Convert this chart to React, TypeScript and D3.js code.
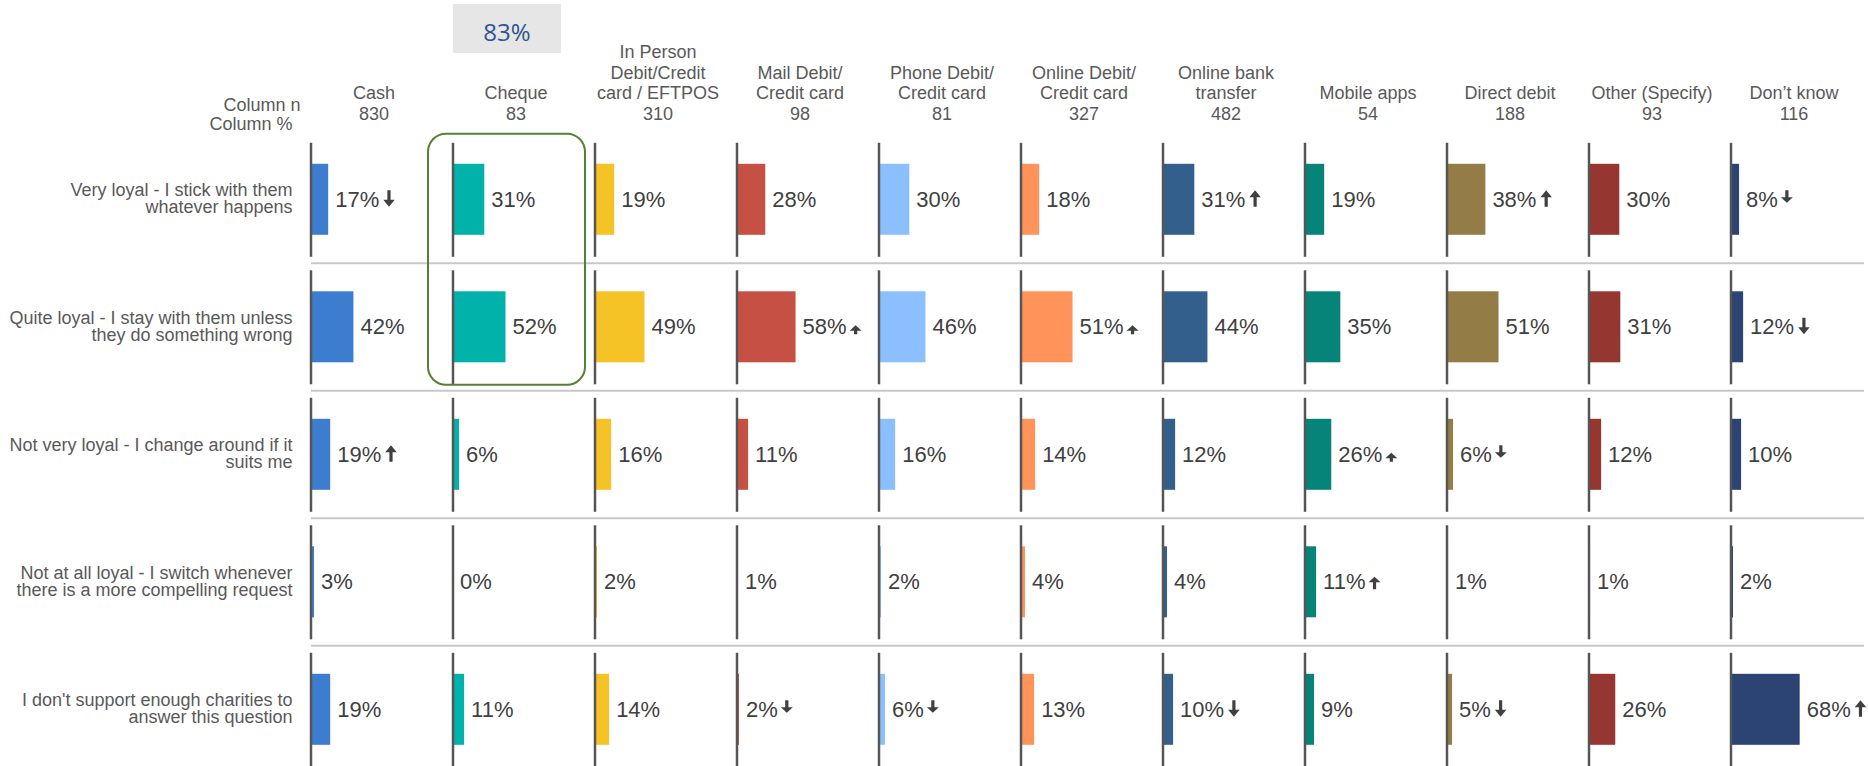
import React, { useEffect, useRef } from 'react'
import * as d3 from 'd3'

const columnKeys = ['cash', 'cheque', 'inperson', 'mail', 'phone', 'onlinedebit', 'bank', 'mobile', 'direct', 'other', 'dontknow']
const columnLabels = [
  ['Cash'],
  ['Cheque'],
  ['In Person', 'Debit/Credit', 'card / EFTPOS'],
  ['Mail Debit/', 'Credit card'],
  ['Phone Debit/', 'Credit card'],
  ['Online Debit/', 'Credit card'],
  ['Online bank', 'transfer'],
  ['Mobile apps'],
  ['Direct debit'],
  ['Other (Specify)'],
  ['Don’t know'],
]
const columnN = [830, 83, 310, 98, 81, 327, 482, 54, 188, 93, 116]
const columnColors = ['#3c7dd0', '#00b2a9', '#f5c325', '#c55043', '#8cbffe', '#ff9359', '#335f8c', '#06847a', '#937c45', '#963630', '#2c4474']

const rowLabels = [
  ['Very loyal - I stick with them', 'whatever happens'],
  ['Quite loyal - I stay with them unless', 'they do something wrong'],
  ['Not very loyal - I change around if it', 'suits me'],
  ['Not at all loyal - I switch whenever', 'there is a more compelling request'],
  ["I don't support enough charities to", 'answer this question'],
]

const veryLoyal = [17, 31, 19, 28, 30, 18, 31, 19, 38, 30, 8]
const quiteLoyal = [42, 52, 49, 58, 46, 51, 44, 35, 51, 31, 12]
const notVeryLoyal = [19, 6, 16, 11, 16, 14, 12, 26, 6, 12, 10]
const notAtAllLoyal = [3, 0, 2, 1, 2, 4, 4, 11, 1, 1, 2]
const dontSupport = [19, 11, 14, 2, 6, 13, 10, 9, 5, 26, 68]

// significance arrows: u/d = up/down, L/M/S = arrow size
const veryLoyalSig = ['dL', '', '', '', '', '', 'uL', '', 'uL', '', 'dS']
const quiteLoyalSig = ['', '', '', 'uS', '', 'uS', '', '', '', '', 'dL']
const notVeryLoyalSig = ['uL', '', '', '', '', '', '', 'uS', 'dS', '', '']
const notAtAllLoyalSig = ['', '', '', '', '', '', '', 'uM', '', '', '']
const dontSupportSig = ['', '', '', 'dS', 'dS', '', 'dL', '', 'dL', '', 'uL']

const rowValues = [veryLoyal, quiteLoyal, notVeryLoyal, notAtAllLoyal, dontSupport]
const rowSigs = [veryLoyalSig, quiteLoyalSig, notVeryLoyalSig, notAtAllLoyalSig, dontSupportSig]

const highlightColumn = 'cheque'
const highlightRows = [0, 1]
const highlightValue = '83%'

const W = 1868
const H = 766
const FONT = '"Liberation Sans", Arial, sans-serif'

const App = () => {
  const svgRef = useRef(null)

  useEffect(() => {
    const svg = d3.select(svgRef.current)
    svg.selectAll('*').remove()

    const xCol = d3.scalePoint().domain(columnKeys).range([311, 1731])
    const yRow = d3.scaleBand().domain(d3.range(rowLabels.length)).range([135.8, 135.8 + 127.5 * rowLabels.length])
    const xVal = d3.scaleLinear().domain([0, 100]).range([0, 101])
    const step = yRow.bandwidth()

    // row separators
    svg.append('g')
      .selectAll('line')
      .data(d3.range(rowLabels.length - 1))
      .enter()
      .append('line')
      .attr('x1', xCol('cash'))
      .attr('x2', 1864)
      .attr('y1', d => yRow(d) + step)
      .attr('y2', d => yRow(d) + step)
      .style('stroke', '#c8c8c8')
      .style('stroke-width', 2)

    // top-left header
    svg.append('text')
      .attr('x', 300.5).attr('y', 111)
      .attr('text-anchor', 'end')
      .style('font-family', FONT).style('font-size', '18px').style('fill', '#595959')
      .text('Column n')
    svg.append('text')
      .attr('x', 292.6).attr('y', 130)
      .attr('text-anchor', 'end')
      .style('font-family', FONT).style('font-size', '18px').style('fill', '#595959')
      .text('Column %')

    // column headers
    columnKeys.forEach((key, i) => {
      const lines = [...columnLabels[i], String(columnN[i])]
      const cx = xCol(key) + 63
      lines.forEach((ln, j) => {
        svg.append('text')
          .attr('x', cx)
          .attr('y', 120 - (lines.length - 1 - j) * 20.7)
          .attr('text-anchor', 'middle')
          .style('font-family', FONT).style('font-size', '18px').style('fill', '#595959')
          .text(ln)
      })
    })

    // highlight value box
    const hx = xCol(highlightColumn)
    svg.append('rect')
      .attr('x', hx).attr('y', 4).attr('width', 108).attr('height', 49)
      .style('fill', '#e6e6e6')
    svg.append('text')
      .attr('x', hx + 54).attr('y', 40.5)
      .attr('text-anchor', 'middle')
      .style('font-family', '"Open Sans", "Noto Sans", sans-serif').style('font-size', '24px').style('fill', '#2e5490')
      .text(highlightValue)

    // row labels
    rowLabels.forEach((lines, r) => {
      const cy = yRow(r) + 63.7
      lines.forEach((ln, j) => {
        svg.append('text')
          .attr('x', 292.6)
          .attr('y', cy - 3.5 + j * 17.3)
          .attr('text-anchor', 'end')
          .style('font-family', FONT).style('font-size', '18px').style('fill', '#595959')
          .text(ln)
      })
    })

    const cells = []
    rowValues.forEach((vals, r) => {
      vals.forEach((v, c) => {
        cells.push({ r, c, key: columnKeys[c], v, sig: rowSigs[r][c] })
      })
    })

    const g = svg.append('g')

    // bars
    g.selectAll('.bar')
      .data(cells)
      .enter()
      .append('rect')
      .attr('class', 'bar')
      .attr('x', d => xCol(d.key))
      .attr('y', d => yRow(d.r) + 28)
      .attr('width', d => xVal(d.v))
      .attr('height', 71)
      .style('fill', d => columnColors[d.c])

    // column axis lines
    g.selectAll('.axis')
      .data(cells)
      .enter()
      .append('line')
      .attr('class', 'axis')
      .attr('x1', d => xCol(d.key))
      .attr('x2', d => xCol(d.key))
      .attr('y1', d => yRow(d.r) + 7)
      .attr('y2', d => yRow(d.r) + 121)
      .style('stroke', '#555555')
      .style('stroke-width', 2.5)

    // value labels + arrows
    cells.forEach(d => {
      const base = yRow(d.r) + 63.5 + 7.5
      const tx = xCol(d.key) + xVal(d.v) + 7
      const t = g.append('text')
        .attr('x', tx)
        .attr('y', base)
        .style('font-family', FONT).style('font-size', '22px').style('fill', '#404040')
        .text(`${d.v}%`)
      if (!d.sig) return
      const len = t.node().getComputedTextLength()
      const dir = d.sig[0]
      const size = d.sig[1]
      const w = size === 'L' ? 11.5 : 12
      const headH = size === 'L' ? 7 : 5.5
      const capTop = base - 16.5
      let top
      let bottom
      if (size === 'L') { top = capTop; bottom = base }
      else if (size === 'M') { top = dir === 'u' ? base - 12.5 : capTop; bottom = top + 12.5 }
      else if (dir === 'u') { top = base - 9; bottom = base }
      else { top = capTop; bottom = capTop + 12.5 }
      const x0 = tx + len + (size === 'L' ? 4 : 3)
      const mid = x0 + w / 2
      const sw = 1.6
      const path = dir === 'u'
        ? `M${x0},${top + headH} L${mid},${top} L${x0 + w},${top + headH} L${mid + sw},${top + headH} L${mid + sw},${bottom} L${mid - sw},${bottom} L${mid - sw},${top + headH} Z`
        : `M${x0},${bottom - headH} L${mid},${bottom} L${x0 + w},${bottom - headH} L${mid + sw},${bottom - headH} L${mid + sw},${top} L${mid - sw},${top} L${mid - sw},${bottom - headH} Z`
      g.append('path').attr('d', path).style('fill', '#404040')
    })

    // highlight frame
    const r0 = highlightRows[0]
    const r1 = highlightRows[highlightRows.length - 1]
    svg.append('rect')
      .attr('x', hx - 25)
      .attr('y', yRow(r0) - 2)
      .attr('width', 157)
      .attr('height', yRow(r1) + step - 6 - (yRow(r0) - 2))
      .attr('rx', 18)
      .style('fill', 'none')
      .style('stroke', '#548235')
      .style('stroke-width', 2)
  }, [])

  return (
    <div style={{ position: 'absolute', left: 0, top: 0, width: W, height: H, overflow: 'hidden', background: '#fff' }}>
      <svg ref={svgRef} width={W} height={H}></svg>
    </div>
  )
}

export default App
